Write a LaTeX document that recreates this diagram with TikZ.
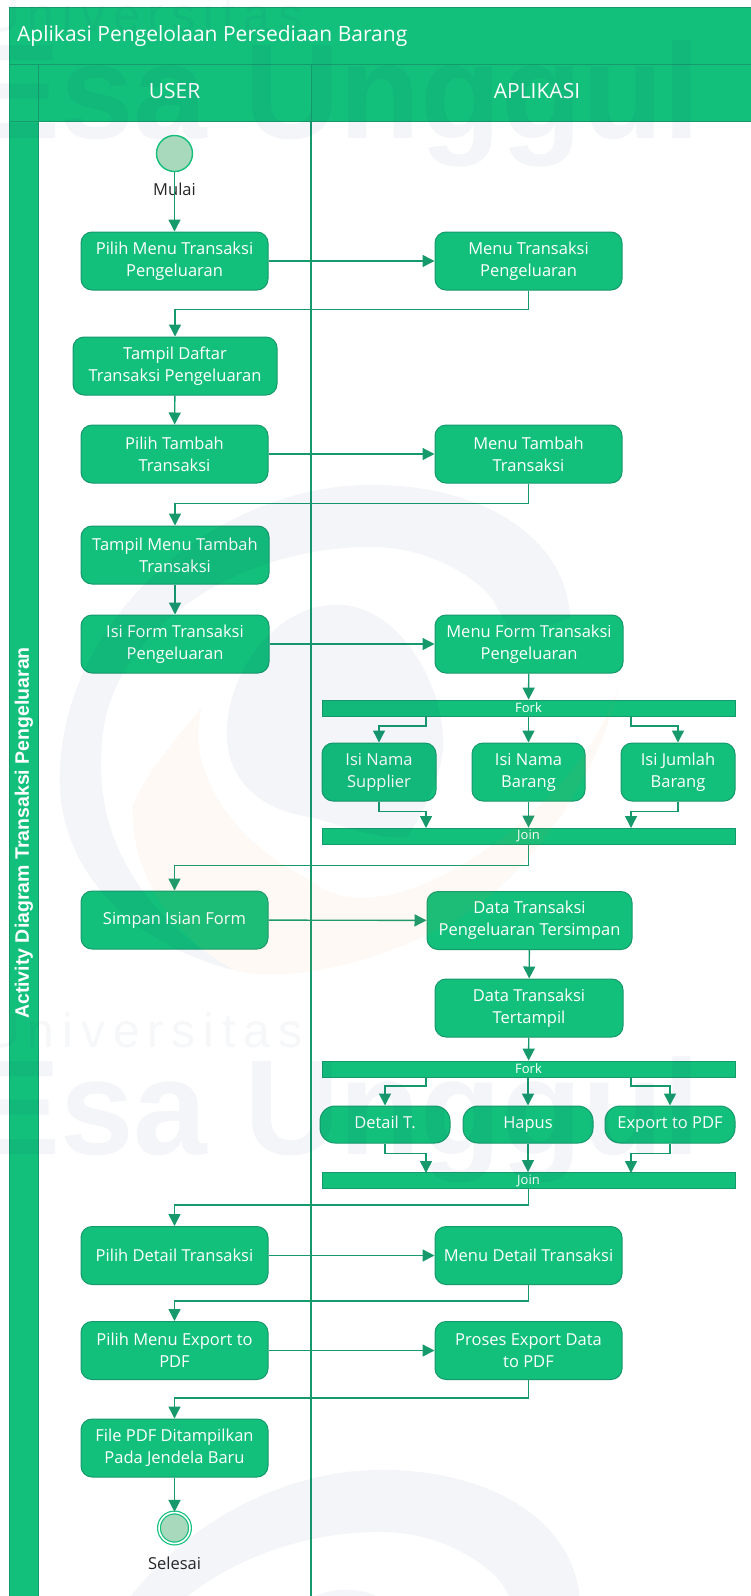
\documentclass[tikz,border=0pt]{standalone}
\usepackage{fontspec}
\setmainfont{Open Sans}
\newfontfamily\stripfont{Liberation Sans}
\usetikzlibrary{arrows.meta,shapes.misc}
\definecolor{bandgreen}{HTML}{12BF7B}
\definecolor{edgegreen}{HTML}{169A6C}
\definecolor{paledot}{HTML}{A9D9BC}
\definecolor{wmblue}{HTML}{1F3F78}
\definecolor{wmorange}{HTML}{F08A3C}
\tikzset{
actbox/.style={draw=edgegreen,fill=bandgreen,line width=1pt,rounded corners=11pt,minimum width=187pt,minimum height=58pt,
  align=center,text=white,inner sep=0pt,font=\fontsize{16.5}{22}\selectfont},
pillbox/.style={actbox,minimum width=130pt,minimum height=37pt,rounded corners=15pt,text height=12pt,text depth=4pt},
barbox/.style={draw=edgegreen,fill=bandgreen,line width=0.8pt,minimum width=413pt,minimum height=16pt,inner sep=0pt,text=white,font=\fontsize{13}{14}\selectfont},
flow/.style={draw=edgegreen,line width=1.4pt,-{Triangle[width=12pt,length=12pt]}},
laneline/.style={draw=edgegreen,line width=1.8pt},
bandline/.style={draw=edgegreen,fill=bandgreen,line width=0.8pt},
headtext/.style={text=white,inner sep=0pt,font=\fontsize{21}{24}\selectfont},
blacktext/.style={text=black!85,inner sep=0pt,font=\fontsize{16.5}{20}\selectfont},
wmbig/.style={text=wmblue,text opacity=0.05,inner sep=0pt,font=\stripfont\bfseries\fontsize{135}{140}\selectfont},
wmthin/.style={text=wmblue,text opacity=0.04,inner sep=0pt,font=\stripfont\fontsize{48}{52}\selectfont}
}
\begin{document}
\begin{tikzpicture}[x=1pt,y=-1pt]
\useasboundingbox (0,0) rectangle (751,1596);
\fill[white] (0,0) rectangle (751,1596);
\draw[bandline] (9,64) rectangle (38,1600);
\draw[bandline] (9,64) rectangle (755,121);
\draw[bandline] (9,7) rectangle (755,64);
\draw[edgegreen,line width=0.8pt] (311,64)--(311,121);
\draw[laneline] (311,121)--(311,1600);
\draw[edgegreen,line width=0.8pt] (38,64)--(38,121);
\node[headtext,anchor=west] (titletext) at (17,36) {Aplikasi Pengelolaan Persediaan Barang};
\node[headtext] (usertext) at (174.5,91) {USER};
\node[headtext] (apptext) at (537,91) {APLIKASI};
\node[text=white,inner sep=0pt,rotate=90,font=\stripfont\bfseries\fontsize{19.5}{22}\selectfont] (striptext) at (24,833) {Activity Diagram Transaksi Pengeluaran};
\node[circle,draw=bandgreen,fill=paledot,line width=1.4pt,minimum size=36pt,inner sep=0pt] (startdot) at (174.5,153.5) {};
\node[blacktext] (starttext) at (174.5,189) {Mulai};
\node[actbox] (pilihmenu) at (174.5,261) {Pilih Menu Transaksi\\Pengeluaran};
\node[actbox] (menutrans) at (528.5,261) {Menu Transaksi\\Pengeluaran};
\node[actbox,minimum width=204pt] (tampildaftar) at (175,366) {Tampil Daftar\\Transaksi Pengeluaran};
\node[actbox] (pilihtambah) at (174.5,454) {Pilih Tambah\\Transaksi};
\node[actbox] (menutambah) at (528.5,454) {Menu Tambah\\Transaksi};
\node[actbox,minimum width=188pt] (tampilmenu) at (175,555) {Tampil Menu Tambah\\Transaksi};
\node[actbox,minimum width=188pt] (isiform) at (175,644) {Isi Form Transaksi\\Pengeluaran};
\node[actbox,minimum width=188pt] (menuform) at (529,644) {Menu Form Transaksi\\Pengeluaran};
\node[barbox] (forkone) at (528.5,708) {Fork};
\node[actbox,minimum width=114pt] (isisupplier) at (379,772) {Isi Nama\\Supplier};
\node[actbox,minimum width=113pt] (isibarang) at (528.5,772) {Isi Nama\\Barang};
\node[actbox,minimum width=114pt] (isijumlah) at (678,772) {Isi Jumlah\\Barang};
\node[barbox] (joinone) at (528.5,836) {Join};
\node[actbox] (simpan) at (174.5,920) {Simpan Isian Form};
\node[actbox,minimum width=205pt] (datasimpan) at (529.5,920.5) {Data Transaksi\\Pengeluaran Tersimpan};
\node[actbox,minimum width=188pt] (datatampil) at (529,1008) {Data Transaksi\\Tertampil};
\node[barbox] (forktwo) at (528.5,1069) {Fork};
\node[pillbox] (detailt) at (385,1124.5) {Detail T.};
\node[pillbox] (hapus) at (528,1124.5) {Hapus};
\node[pillbox] (exportpdf) at (670,1124.5) {Export to PDF};
\node[barbox] (jointwo) at (528.5,1180.5) {Join};
\node[actbox] (pilihdetail) at (174.5,1255.5) {Pilih Detail Transaksi};
\node[actbox] (menudetail) at (528.5,1255.5) {Menu Detail Transaksi};
\node[actbox] (pilihexport) at (174.5,1350.5) {Pilih Menu Export to\\PDF};
\node[actbox] (prosesexport) at (528.5,1350.5) {Proses Export Data\\to PDF};
\node[actbox] (filepdf) at (174.5,1448) {File PDF Ditampilkan\\Pada Jendela Baru};
\node[circle,draw=bandgreen,fill=paledot,double=white,double distance=1.6pt,line width=1.2pt,minimum size=31pt,inner sep=0pt] (enddot) at (174.5,1528) {};
\node[blacktext] (endtext) at (174.5,1563) {Selesai};
\coordinate (forkoneleft) at (426,716);
\coordinate (forkoneright) at (631,716);
\coordinate (joinoneleft) at (426,828);
\coordinate (joinoneright) at (631,828);
\coordinate (forktwoleft) at (426,1077);
\coordinate (forktworight) at (631,1077);
\coordinate (jointwoleft) at (426,1173);
\coordinate (jointworight) at (631,1173);
\draw[flow] (startdot)--(pilihmenu);
\draw[flow] (pilihmenu)--(menutrans);
\draw[flow] (menutrans.south)--++(0,19)-|(tampildaftar.north);
\draw[flow] (tampildaftar)--(pilihtambah);
\draw[flow] (pilihtambah)--(menutambah);
\draw[flow] (menutambah.south)--++(0,20)-|(tampilmenu.north);
\draw[flow] (tampilmenu)--(isiform);
\draw[flow] (isiform)--(menuform);
\draw[flow] (menuform)--(forkone);
\draw[flow] (forkoneleft)--++(0,10)-|(isisupplier.north);
\draw[flow] (forkone)--(isibarang);
\draw[flow] (forkoneright)--++(0,10)-|(isijumlah.north);
\draw[flow] (isisupplier.south)--++(0,10)-|(joinoneleft);
\draw[flow] (isibarang)--(joinone);
\draw[flow] (isijumlah.south)--++(0,10)-|(joinoneright);
\draw[flow] (joinone.south)--++(0,21)-|(simpan.north);
\draw[flow] (simpan)--(datasimpan);
\draw[flow] (datasimpan)--(datatampil);
\draw[flow] (datatampil)--(forktwo);
\draw[flow] (forktwoleft)--++(0,9)-|(detailt.north);
\draw[flow] (forktwo.south-|hapus.north)--(hapus.north);
\draw[flow] (forktworight)--++(0,9)-|(exportpdf.north);
\draw[flow] (detailt.south)--++(0,10)-|(jointwoleft);
\draw[flow] (hapus.south)--(hapus.south|-jointwo.north);
\draw[flow] (exportpdf.south)--++(0,10)-|(jointworight);
\draw[flow] (jointwo.south)--++(0,16)-|(pilihdetail.north);
\draw[flow] (pilihdetail)--(menudetail);
\draw[flow] (menudetail.south)--++(0,16)-|(pilihexport.north);
\draw[flow] (pilihexport)--(prosesexport);
\draw[flow] (prosesexport.south)--++(0,18)-|(filepdf.north);
\draw[flow] (filepdf)--(enddot);
%watermark
\begin{scope}
\clip (0,0) rectangle (751,1596);
\foreach \dy/\lx/\ly in {0/0/0,1016/10/985}{
\node[wmthin,anchor=base west] (wmthin\dy) at (-15,31+\dy) {U\,n\,i\,v\,e\,r\,s\,i\,t\,a\,s};
\node[wmbig,anchor=base west,xscale=0.98] (wmbig\dy) at (-28,138+\dy) {Esa Unggul};
\begin{scope}[shift={(\lx,\ly)}]
\fill[wmblue,fill opacity=0.05] (233,970) .. controls (120,940) and (55,860) .. (60,770) .. controls (65,620) and (210,490) .. (363,485) .. controls (470,482) and (565,530) .. (570,617) -- (515,640) -- (493,600) .. controls (470,570) and (420,547) .. (373,547) .. controls (260,545) and (130,610) .. (105,720) .. controls (85,830) and (140,915) .. (233,970) -- cycle;
\fill[wmblue,fill opacity=0.05] (343,605) .. controls (280,600) and (225,670) .. (227,737) .. controls (228,780) and (260,810) .. (310,817) .. controls (340,825) and (380,840) .. (407,837) .. controls (425,810) and (445,770) .. (443,737) .. controls (440,680) and (400,610) .. (343,605) -- cycle;
\fill[wmorange,fill opacity=0.05] (202,707) .. controls (175,740) and (145,775) .. (133,805) .. controls (130,870) and (170,935) .. (233,970) .. controls (290,985) and (380,960) .. (443,927) .. controls (520,890) and (600,780) .. (620,680) .. controls (600,760) and (510,850) .. (417,887) .. controls (380,900) and (340,905) .. (310,880) .. controls (230,840) and (185,770) .. (202,707) -- cycle;
\end{scope}}
\end{scope}
\end{tikzpicture}
\end{document}
